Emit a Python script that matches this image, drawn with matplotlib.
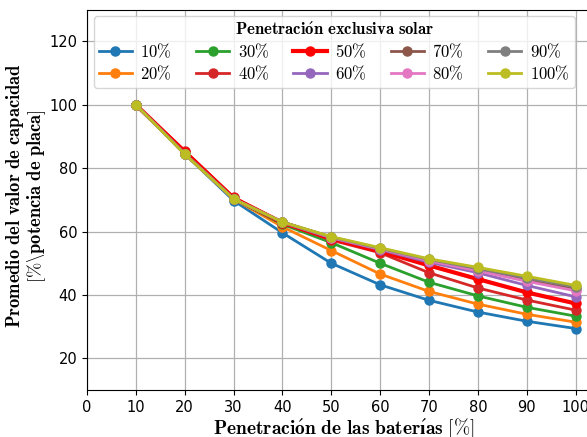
import matplotlib
matplotlib.use("Agg")
import matplotlib.pyplot as plt

plt.rcParams["mathtext.fontset"] = "cm"

# penetración de baterías [%]
bateria = [10, 20, 30, 40, 50, 60, 70, 80, 90, 100]

# promedio del valor de capacidad para cada nivel de penetración solar
pv10 = [100, 84.5, 69.8, 59.6, 50.0, 43.2, 38.3, 34.6, 31.7, 29.4]
pv20 = [100, 85.0, 70.3, 61.5, 54.0, 46.6, 41.1, 37.1, 33.9, 31.4]
pv30 = [100, 84.8, 70.4, 62.3, 56.5, 50.0, 44.0, 39.7, 36.1, 33.3]
pv40 = [100, 85.5, 70.8, 62.7, 57.3, 53.3, 47.0, 42.2, 38.4, 35.2]
pv50 = [100, 85.2, 70.6, 62.8, 57.8, 53.8, 49.3, 45.0, 40.8, 37.3]
pv60 = [100, 84.6, 70.4, 62.9, 58.0, 54.3, 50.3, 47.0, 43.0, 39.4]
pv70 = [100, 84.5, 70.3, 63.0, 58.2, 54.6, 51.0, 47.9, 44.7, 41.8]
pv80 = [100, 84.5, 70.3, 63.0, 58.1, 54.5, 50.8, 47.6, 44.3, 41.3]
pv90 = [100, 84.5, 70.3, 63.0, 58.3, 54.7, 51.2, 48.3, 45.4, 42.5]
pv100 = [100, 84.4, 70.3, 63.0, 58.4, 54.9, 51.4, 48.7, 45.9, 43.0]

series = [pv10, pv20, pv30, pv40, pv50, pv60, pv70, pv80, pv90, pv100]
etiquetas = ["10%", "20%", "30%", "40%", "50%", "60%", "70%", "80%", "90%", "100%"]
colores = ["tab:blue", "tab:orange", "tab:green", "tab:red", "red",
           "tab:purple", "tab:brown", "tab:pink", "tab:gray", "tab:olive"]

# equivalencias para escribir el texto en negrita con mathtext
tex = {" ": r"\ ", "%": r"\%", "\\": r"\backslash{}",
       "ó": r"\acute{o}", "í": r"\acute{ı}"}


def bf(s):
    return r"$\mathbf{" + "".join(tex.get(ch, ch) for ch in s) + "}$"


fig = plt.figure(figsize=(5.87, 4.37), dpi=100)
ax = fig.add_axes([0.1482, 0.1076, 0.874, 0.870])

for y, lab, c in zip(series, etiquetas, colores):
    lw = 3 if lab == "50%" else 2
    ax.plot(bateria, y, "-o", color=c, lw=lw, ms=6.5, label=bf(lab))

ax.set_xlim(0, 105)
ax.set_ylim(10, 130)
ax.set_xticks(range(0, 101, 10))
ax.set_yticks(range(20, 121, 20))
ax.tick_params(labelsize=10.5)
ax.grid(True, color="#b0b0b0", lw=0.9)
ax.set_axisbelow(True)

ax.set_xlabel(bf("Penetración de las baterías [%]"), fontsize=14, labelpad=1)
ax.set_ylabel(bf("Promedio del valor de capacidad") + "\n" + bf("[%\\potencia de placa]"),
              fontsize=13.3, linespacing=0.95)
ax.yaxis.set_label_coords(-0.076, 0.51)

ax.legend(ncol=5, loc="upper left", title=bf("Penetración exclusiva solar"),
          fontsize=12, title_fontsize=12, framealpha=0.8, columnspacing=1.45,
          handlelength=2.0, handletextpad=0.5, labelspacing=0.2, borderpad=0.3,
          borderaxespad=0.4)

fig.savefig("out.png", dpi=100)
